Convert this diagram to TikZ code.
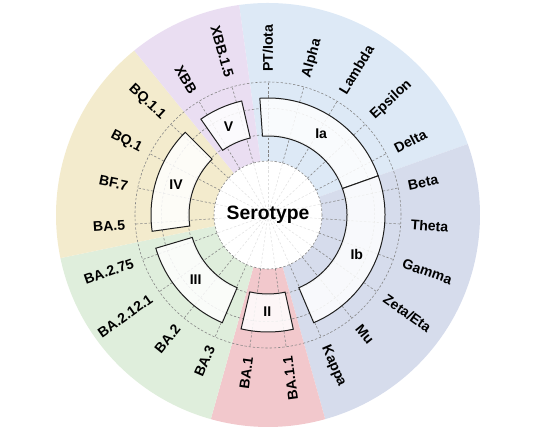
\documentclass[tikz,border=0pt]{standalone}
\usepackage{fontspec}
\setmainfont{Liberation Sans}
\usepackage{tikz}
\definecolor{seroblue}{HTML}{DDE9F6}
\definecolor{serogrey}{HTML}{D6DCEC}
\definecolor{seropink}{HTML}{F2C8CC}
\definecolor{serogreen}{HTML}{DFEEDC}
\definecolor{seroyellow}{HTML}{F3EBCD}
\definecolor{seropurple}{HTML}{EADEF2}
\definecolor{gridgrey}{HTML}{858585}
\definecolor{barline}{HTML}{1E1E1E}
\newcommand{\serosector}[3]{% from-angle, to-angle, colour  (ring 54..212)
  \fill[#3] (#1:54) arc[start angle=#1, end angle=#2, radius=54]
    -- (#2:212) arc[start angle=#2, end angle=#1, radius=212] -- cycle;
}
\newcommand{\serobar}[3]{% from-angle, to-angle, label  (ring 79..117)
  \draw[barline, line width=0.85pt, fill=white, fill opacity=0.85]
    (#1:79) arc[start angle=#1, end angle=#2, radius=79]
    -- (#2:117) arc[start angle=#2, end angle=#1, radius=117] -- cycle;
  \node[serolabel] (bar#3) at ({(#1+#2)/2}:97) {#3};
}

\begin{document}
\begin{tikzpicture}[x=0.03cm, y=0.03cm,
    gridline/.style={gridgrey, line width=0.5pt, dash pattern=on 2pt off 1.6pt},
    hubline/.style={gray!25, line width=0.4pt, dash pattern=on 2pt off 1.6pt},
    catlabel/.style={font=\fontsize{12}{14}\selectfont\bfseries, inner sep=0pt},
    serolabel/.style={font=\fontsize{12}{14}\selectfont\bfseries, inner sep=0pt}]
  \useasboundingbox (-268,-216) rectangle (268,215);

  % lineage groups (23 slots of 360/23 deg, slot 0 at the top)
  \serosector{97.826}{19.565}{seroblue}
  \serosector{19.565}{-74.348}{serogrey}
  \serosector{-74.348}{-105.652}{seropink}
  \serosector{-105.652}{-168.261}{serogreen}
  \serosector{-168.261}{-230.870}{seroyellow}
  \serosector{-230.870}{-262.174}{seropurple}

  % hub and grid
  \fill[white] (0,0) circle[radius=54];
  \foreach \k in {0,...,22} {
    \draw[hubline] (0,0) -- ({90-\k*360/23}:54);
    \draw[gridline] ({90-\k*360/23}:54) -- ({90-\k*360/23}:133);
  }
  \foreach \r in {54,80.3,106.7,133} {
    \draw[gridline] (0,0) circle[radius=\r];
  }

  % serotype bars
  \serobar{94}{19.565}{Ia}
  \serobar{19.565}{-67}{Ib}
  \serobar{-77.5}{-103.3}{II}
  \serobar{196.5}{247}{III}
  \serobar{135}{188}{IV}
  \serobar{103}{125}{V}

  % variant names, read outward on the right, flipped from slot 11 on
  \foreach \txt [count=\k from 0] in {{PT/Iota}, Alpha, Lambda, Epsilon, Delta,
      Beta, Theta, Gamma, {Zeta/Eta}, Mu, Kappa, BA.1.1, BA.1, BA.3, BA.2,
      BA.2.12.1, BA.2.75, BA.5, BF.7, BQ.1, BQ.1.1, XBB, XBB.1.5} {
    \pgfmathsetmacro\ang{90-\k*360/23}
    \ifnum\k<11
      \node[catlabel, anchor=west, rotate=\ang] (cat\k) at (\ang:143) {\txt};
    \else
      \node[catlabel, anchor=east, rotate=\ang+180] (cat\k) at (\ang:143) {\txt};
    \fi
  }

  \node[font=\fontsize{16.5}{19}\selectfont\bfseries] (hub) at (0,0) {Serotype};
\end{tikzpicture}
\end{document}
